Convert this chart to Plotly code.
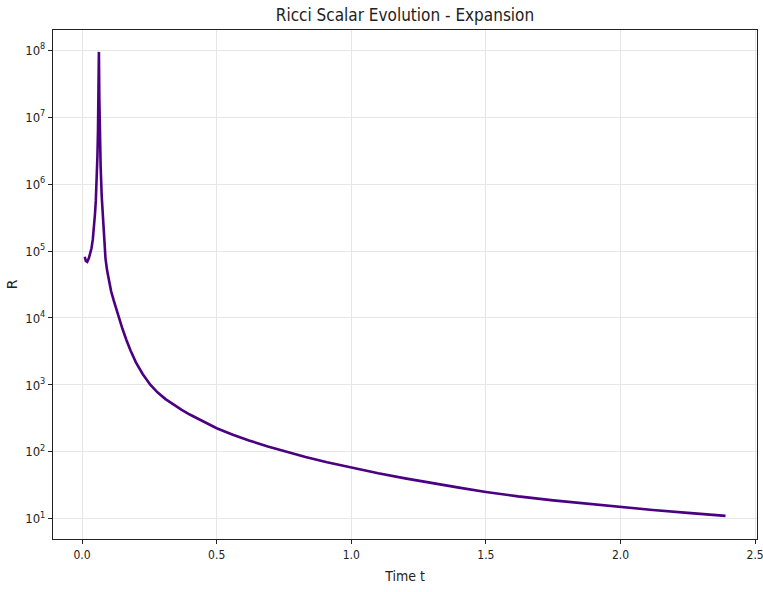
import plotly.graph_objects as go

# Data
time_t = [0.010, 0.014, 0.019, 0.025, 0.030, 0.035, 0.040, 0.045, 0.048, 0.051,
          0.054, 0.057, 0.059, 0.061, 0.0625, 0.064, 0.066, 0.069, 0.073, 0.079,
          0.087, 0.093, 0.100, 0.108, 0.118, 0.128, 0.137, 0.150, 0.165, 0.180,
          0.200, 0.225, 0.254, 0.28, 0.31, 0.34, 0.37, 0.40, 0.44, 0.50,
          0.56, 0.62, 0.69, 0.755, 0.83, 0.91, 1.00, 1.10, 1.20, 1.30,
          1.40, 1.50, 1.62, 1.75, 1.88, 2.00, 2.12, 2.25, 2.39]
ricci_R = [8.2e4, 7.1e4, 6.9e4, 7.8e4, 9.2e4, 1.1e5, 1.5e5, 2.4e5, 3.6e5, 5.6e5,
           1.0e6, 2.6e6, 6.0e6, 1.6e7, 9.4e7, 2.0e7, 5.0e6, 1.8e6, 6.5e5, 2.1e5,
           7.7e4, 5.1e4, 3.5e4, 2.5e4, 1.8e4, 1.31e4, 1.0e4, 6.9e3, 4.65e3, 3.26e3,
           2.18e3, 1.46e3, 1.0e3, 775, 615, 505, 426, 362, 298, 226,
           181, 148, 121, 102, 84, 70, 58, 48, 40.3, 34.2,
           29.3, 25.3, 21.7, 18.9, 16.7, 15.0, 13.6, 12.3, 11.1]

x_tick_vals = [0.0, 0.5, 1.0, 1.5, 2.0, 2.5]
x_tick_text = ["0.0", "0.5", "1.0", "1.5", "2.0", "2.5"]
y_tick_vals = [1e1, 1e2, 1e3, 1e4, 1e5, 1e6, 1e7, 1e8]
y_tick_text = ["10<sup>1</sup>", "10<sup>2</sup>", "10<sup>3</sup>", "10<sup>4</sup>",
               "10<sup>5</sup>", "10<sup>6</sup>", "10<sup>7</sup>", "10<sup>8</sup>"]

font_main = "DejaVu Sans Condensed, Liberation Sans Narrow, DejaVu Sans, sans-serif"

fig = go.Figure()
fig.add_trace(go.Scatter(x=time_t, y=ricci_R, mode="lines",
                         line=dict(color="#4B0082", width=2.6),
                         showlegend=False))

fig.update_layout(
    width=763, height=592,
    margin=dict(l=53, r=6, t=30, b=53),
    paper_bgcolor="white", plot_bgcolor="white",
    title=dict(text="Ricci Scalar Evolution - Expansion",
               xref="paper", x=0.5, xanchor="center", y=0.975, yanchor="middle",
               font=dict(family=font_main, size=17, color="#222")),
    font=dict(family=font_main, color="#222"),
)

fig.update_xaxes(range=[-0.108, 2.507], tickvals=x_tick_vals, ticktext=x_tick_text,
                 automargin=False,
                 showgrid=True, gridcolor="#e6e6e6", gridwidth=1,
                 showline=True, linecolor="#222", linewidth=1.2, mirror=True,
                 ticks="outside", ticklen=4, tickcolor="#222",
                 ticklabeloverflow="allow",
                 tickfont=dict(size=12), zeroline=False,
                 title=dict(text="Time t", font=dict(size=14), standoff=10))

fig.update_yaxes(type="log", range=[0.70, 8.30], tickvals=y_tick_vals, ticktext=y_tick_text,
                 automargin=False,
                 showgrid=True, gridcolor="#e6e6e6", gridwidth=1,
                 showline=True, linecolor="#222", linewidth=1.2, mirror=True,
                 ticks="outside", ticklen=4, tickcolor="#222",
                 tickfont=dict(size=13), zeroline=False,
                 title=dict(text="R", font=dict(family="DejaVu Sans", size=14), standoff=4))

fig.write_html("out.html")
